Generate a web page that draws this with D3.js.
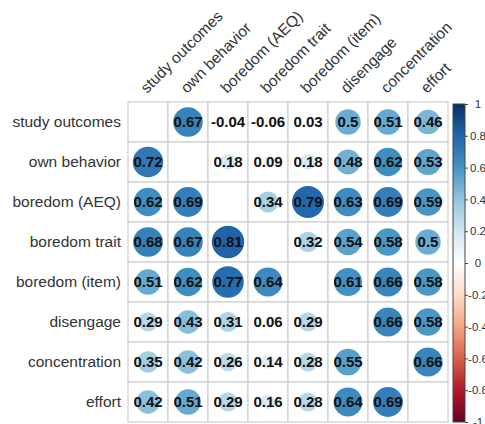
<!DOCTYPE html>
<html>
<head>
<script src="https://cdnjs.cloudflare.com/ajax/libs/d3/7.8.5/d3.min.js"></script>
<style>
  body { margin: 0; background: #fff; }
  text { font-family: "Liberation Sans", Arial, sans-serif; }
</style>
</head>
<body>
<div id="vis"></div>
<script>
const variables = ["study outcomes", "own behavior", "boredom (AEQ)", "boredom trait",
                   "boredom (item)", "disengage", "concentration", "effort"];

// rows of the correlation matrix (null on the diagonal)
const corrValues = [
  [null, 0.67, -0.04, -0.06, 0.03, 0.5, 0.51, 0.46],
  [0.72, null, 0.18, 0.09, 0.18, 0.48, 0.62, 0.53],
  [0.62, 0.69, null, 0.34, 0.79, 0.63, 0.69, 0.59],
  [0.68, 0.67, 0.81, null, 0.32, 0.54, 0.58, 0.5],
  [0.51, 0.62, 0.77, 0.64, null, 0.61, 0.66, 0.58],
  [0.29, 0.43, 0.31, 0.06, 0.29, null, 0.66, 0.58],
  [0.35, 0.42, 0.26, 0.14, 0.28, 0.55, null, 0.66],
  [0.42, 0.51, 0.29, 0.16, 0.28, 0.64, 0.69, null]
];

const legendTicks = [1, 0.8, 0.6, 0.4, 0.2, 0, -0.2, -0.4, -0.6, -0.8, -1];
const palette = ["#67001F", "#B2182B", "#D6604D", "#F4A582", "#FDDBC7", "#FFFFFF",
                 "#D1E5F0", "#92C5DE", "#4393C3", "#2166AC", "#053061"];

const width = 485, height = 424;
const svg = d3.select("#vis").append("svg").attr("width", width).attr("height", height);

const gridLeft = 128, gridTop = 102, size = 320;
const x = d3.scaleBand().domain(variables).range([gridLeft, gridLeft + size]);
const y = d3.scaleBand().domain(variables).range([gridTop, gridTop + size]);
const color = d3.scaleLinear().domain(d3.range(palette.length).map(i => -1 + i * 0.2)).range(palette);
const rad = d3.scaleSqrt().domain([0, 1]).range([0, x.bandwidth() * 0.45]);
const fmt = v => String(+v.toFixed(2));

const cells = [];
corrValues.forEach((row, i) => row.forEach((v, j) => cells.push({r: variables[i], c: variables[j], v: v})));

// grid
svg.append("g").selectAll("rect").data(cells).join("rect")
  .attr("x", d => x(d.c)).attr("y", d => y(d.r))
  .attr("width", x.bandwidth()).attr("height", y.bandwidth())
  .attr("fill", "white").attr("stroke", "#cfcfcf").attr("stroke-width", 1.2);

const filled = cells.filter(d => d.v !== null);

svg.append("g").selectAll("circle").data(filled).join("circle")
  .attr("cx", d => x(d.c) + x.bandwidth() / 2)
  .attr("cy", d => y(d.r) + y.bandwidth() / 2)
  .attr("r", d => rad(Math.abs(d.v)))
  .attr("fill", d => color(d.v));

svg.append("g").selectAll("text").data(filled).join("text")
  .attr("x", d => x(d.c) + x.bandwidth() / 2)
  .attr("y", d => y(d.r) + y.bandwidth() / 2)
  .attr("dy", "0.36em")
  .attr("text-anchor", "middle")
  .style("font-size", "15px").style("font-weight", "bold")
  .attr("fill", "#111")
  .text(d => fmt(d.v));

// row labels
svg.append("g").selectAll("text").data(variables).join("text")
  .attr("x", gridLeft - 7)
  .attr("y", d => y(d) + y.bandwidth() / 2)
  .attr("dy", "0.35em")
  .attr("text-anchor", "end")
  .style("font-size", "15.5px").attr("fill", "#333")
  .text(d => d);

// column labels
svg.append("g").selectAll("text").data(variables).join("text")
  .attr("transform", d => "translate(" + (x(d) + x.bandwidth() / 2 - 1) + "," + (gridTop - 8) + ") rotate(-45)")
  .attr("text-anchor", "start")
  .style("font-size", "15.5px").attr("fill", "#333")
  .text(d => d);

// colour legend
const grad = svg.append("defs").append("linearGradient")
  .attr("id", "cbar").attr("x1", 0).attr("y1", 1).attr("x2", 0).attr("y2", 0);
grad.selectAll("stop").data(palette).join("stop")
  .attr("offset", (d, i) => i / (palette.length - 1))
  .attr("stop-color", d => d);

const ly = d3.scaleLinear().domain([-1, 1]).range([gridTop + size, gridTop + 2]);
const barX = 453, barW = 12;
svg.append("rect")
  .attr("x", barX).attr("y", ly(1)).attr("width", barW).attr("height", ly(-1) - ly(1))
  .attr("fill", "url(#cbar)").attr("stroke", "#444").attr("stroke-width", 1);

const axis = svg.append("g")
  .attr("transform", "translate(" + (barX + barW) + ",0)")
  .call(d3.axisRight(ly).tickValues(legendTicks).tickSize(3).tickFormat(d => String(+d.toFixed(1))));
axis.select(".domain").remove();
axis.selectAll(".tick line").attr("stroke", "#444");
axis.selectAll(".tick text")
  .attr("x", 13).attr("text-anchor", "middle")
  .style("font-size", "11.5px").style("font-family", "Liberation Sans, Arial, sans-serif")
  .attr("fill", "#333");
</script>
</body>
</html>
